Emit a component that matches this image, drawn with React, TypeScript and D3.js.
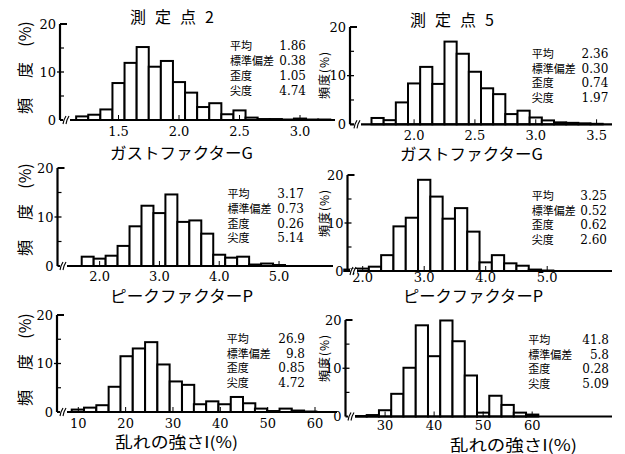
import React from "react";
import * as d3 from "d3";

// ---- Histogram data: bin centres and relative frequency (%) ----
// 測定点2 — gust factor G
const gustBins2 = [1.2, 1.3, 1.4, 1.5, 1.6, 1.7, 1.8, 1.9, 2.0, 2.1, 2.2, 2.3, 2.4, 2.5, 2.6, 2.7, 2.8, 2.9, 3.0, 3.1, 3.2];
const gustFreq2 = [0.75, 1.1, 2.2, 7.7, 11.9, 15.2, 11.1, 12.3, 7.9, 5.7, 2.7, 3.5, 1.2, 2.0, 0.5, 0.2, 0.2, 0.1, 0.3, 0.1, 0.1];
// 測定点5 — gust factor G
const gustBins5 = [1.7, 1.8, 1.9, 2.0, 2.1, 2.2, 2.3, 2.4, 2.5, 2.6, 2.7, 2.8, 2.9, 3.0, 3.1, 3.2, 3.3, 3.4, 3.5];
const gustFreq5 = [1.3, 0.85, 4.5, 8.4, 11.8, 8.3, 17.0, 14.5, 10.8, 7.4, 6.2, 2.1, 2.8, 1.4, 0.8, 0.4, 0.3, 0.2, 0.1];
// 測定点2 — peak factor P
const peakBins2 = [1.8, 2.0, 2.2, 2.4, 2.6, 2.8, 3.0, 3.2, 3.4, 3.6, 3.8, 4.0, 4.2, 4.4, 4.6, 4.8, 5.0];
const peakFreq2 = [1.9, 1.5, 2.1, 4.1, 8.1, 12.3, 10.8, 14.6, 9.0, 9.3, 6.6, 2.3, 1.7, 1.9, 0.3, 0.5, 0.2];
// 測定点5 — peak factor P
const peakBins5 = [1.8, 2.0, 2.2, 2.4, 2.6, 2.8, 3.0, 3.2, 3.4, 3.6, 3.8, 4.0, 4.2, 4.4, 4.6, 4.8, 5.0];
const peakFreq5 = [0.3, 0.5, 0.9, 3.3, 9.3, 11.1, 19.0, 15.5, 10.9, 13.1, 8.2, 1.8, 3.3, 1.6, 1.1, 0.3, 0.1];
// 測定点2 — turbulence intensity I (%)
const turbBins2 = [9.9, 12.5, 15.1, 17.7, 20.2, 22.8, 25.4, 28.0, 30.6, 33.2, 35.7, 38.3, 40.9, 43.5, 46.1, 48.6, 51.2, 53.8, 56.4, 59.0];
const turbFreq2 = [0.5, 0.9, 1.4, 5.2, 11.5, 13.1, 14.4, 9.8, 6.3, 5.6, 1.6, 2.2, 1.6, 3.1, 1.8, 0.7, 0.2, 0.7, 0.3, 0.1];
// 測定点5 — turbulence intensity I (%)
const turbBins5 = [25, 27.5, 30, 32.5, 35, 37.5, 40, 42.5, 45, 47.5, 50, 52.5, 55, 57.5, 60];
const turbFreq5 = [0.1, 0.3, 1.3, 4.7, 10.1, 18.9, 12.5, 19.9, 15.6, 8.5, 0.8, 4.3, 2.4, 0.8, 0.4];

// Summary statistics
const statNames = ["平均", "標準偏差", "歪度", "尖度"];
const statsGust2 = ["1.86", "0.38", "1.05", "4.74"];
const statsGust5 = ["2.36", "0.30", "0.74", "1.97"];
const statsPeak2 = ["3.17", "0.73", "0.26", "5.14"];
const statsPeak5 = ["3.25", "0.52", "0.62", "2.60"];
const statsTurb2 = ["26.9", "9.8", "0.85", "4.72"];
const statsTurb5 = ["41.8", "5.8", "0.28", "5.09"];

// Axis ticks
const yTicks = [0, 10, 20];
const yMinorTicks = [5, 15];
const gustTicks2 = [1.5, 2.0, 2.5, 3.0];
const gustTicks5 = [2.0, 2.5, 3.0, 3.5];
const peakTicks = [2.0, 3.0, 4.0, 5.0];
const turbTicks2 = [10, 20, 30, 40, 50, 60];
const turbTicks5 = [30, 40, 50, 60];

const titles = ["測定点2", "測定点5"];
const xTitles = ["ガストファクターG", "ピークファクターP", "乱れの強さI(%)"];
const yTitleParts = ["頻", "度", "(%)"];
const yTitleSmall = "頻度(%)";

const SERIF = "'DejaVu Serif', 'Liberation Serif', serif";
const CJK = "'Noto Sans CJK JP', sans-serif";

type PanelSpec = {
  bins: number[];
  freq: number[];
  width: number;
  stats: string[];
  ticks: number[];
  fmt: (v: number) => string;
  xDom: [number, number];
  xRange: [number, number];
  y0: number;
  y20: number;
  tickDy: number;
  axisX: number;
  axisEnd: number;
  breakX: number;
  title?: { text: string; x: number; y: number };
  xTitle: { text: string; x: number; y: number; len: number };
  yTitle: { x: number; y: number; big: boolean };
  statPos: { lx: number; vx: number; y: number; dy: number };
};

const f1 = d3.format(".1f");
const f0 = d3.format("d");

const panels: PanelSpec[] = [
  {
    bins: gustBins2, freq: gustFreq2, width: 0.1, stats: statsGust2, ticks: gustTicks2, fmt: f1,
    xDom: [1.5, 2.5], xRange: [118.5, 239.5], y0: 120, y20: 24, tickDy: 16, axisX: 60, axisEnd: 335, breakX: 66,
    title: { text: titles[0], x: 130, y: 23 },
    xTitle: { text: xTitles[0], x: 181.5, y: 159, len: 143 },
    yTitle: { x: 25, y: 68, big: true },
    statPos: { lx: 230, vx: 306, y: 50, dy: 15 },
  },
  {
    bins: gustBins5, freq: gustFreq5, width: 0.1, stats: statsGust5, ticks: gustTicks5, fmt: f1,
    xDom: [1.65, 3.15], xRange: [371.5, 554], y0: 124.3, y20: 27, tickDy: 16, axisX: 350, axisEnd: 612, breakX: 357,
    title: { text: titles[1], x: 410, y: 26 },
    xTitle: { text: xTitles[0], x: 471.5, y: 160, len: 143 },
    yTitle: { x: 325, y: 75, big: false },
    statPos: { lx: 531.7, vx: 608.3, y: 58, dy: 14.5 },
  },
  {
    bins: peakBins2, freq: peakFreq2, width: 0.2, stats: statsPeak2, ticks: peakTicks, fmt: f1,
    xDom: [1.7, 5.1], xRange: [81.7, 285], y0: 266, y20: 168, tickDy: 15, axisX: 57.5, axisEnd: 333, breakX: 63,
    xTitle: { text: xTitles[1], x: 181.5, y: 302, len: 143 },
    yTitle: { x: 25, y: 210, big: true },
    statPos: { lx: 227.5, vx: 304, y: 198, dy: 14.8 },
  },
  {
    bins: peakBins5, freq: peakFreq5, width: 0.2, stats: statsPeak5, ticks: peakTicks, fmt: f1,
    xDom: [2, 5], xRange: [362.7, 547.2], y0: 271, y20: 175, tickDy: 11, axisX: 347.5, axisEnd: 612, breakX: 353,
    xTitle: { text: xTitles[1], x: 473, y: 302, len: 140 },
    yTitle: { x: 325, y: 213, big: false },
    statPos: { lx: 531.7, vx: 607, y: 200, dy: 14.5 },
  },
  {
    bins: turbBins2, freq: turbFreq2, width: 2.58, stats: statsTurb2, ticks: turbTicks2, fmt: f0,
    xDom: [10, 60], xRange: [78.3, 315], y0: 412, y20: 315, tickDy: 15.5, axisX: 57, axisEnd: 337, breakX: 63,
    xTitle: { text: xTitles[2], x: 176.5, y: 448, len: 123 },
    yTitle: { x: 25, y: 360, big: true },
    statPos: { lx: 226.7, vx: 305, y: 343, dy: 14.7 },
  },
  {
    bins: turbBins5, freq: turbFreq5, width: 2.5, stats: statsTurb5, ticks: turbTicks5, fmt: f0,
    xDom: [26.25, 61.25], xRange: [366.7, 538.3], y0: 416.5, y20: 320, tickDy: 13.5, axisX: 345.5, axisEnd: 612, breakX: 351,
    xTitle: { text: xTitles[2], x: 513.5, y: 451, len: 127 },
    yTitle: { x: 325, y: 358, big: false },
    statPos: { lx: 528.3, vx: 609, y: 344, dy: 14.7 },
  },
];

function Panel({ p }: { p: PanelSpec }) {
  const x = d3.scaleLinear().domain(p.xDom).range(p.xRange);
  const y = d3.scaleLinear().domain([0, 20]).range([p.y0, p.y20]);
  const half = p.width / 2;
  // offsets of the three parts of the large vertical axis title
  const partOffsets = [38, 2, -34];
  return (
    <g>
      {/* bars */}
      {p.bins.map((c, i) => {
        const x0 = x(c - half);
        const x1 = x(c + half);
        const top = y(p.freq[i]);
        return (
          <rect
            key={i}
            x={x0}
            y={top}
            width={x1 - x0}
            height={p.y0 - top}
            fill="#fff"
            stroke="#000"
            strokeWidth={2}
          />
        );
      })}
      {/* x axis */}
      <line x1={p.axisX} x2={p.axisEnd} y1={p.y0} y2={p.y0} stroke="#000" strokeWidth={2.2} />
      {p.ticks.map((t) => (
        <g key={t}>
          <line x1={x(t)} x2={x(t)} y1={p.y0} y2={p.y0 - 5} stroke="#000" strokeWidth={1} />
          <text
            x={x(t)}
            y={p.y0 + p.tickDy}
            textAnchor="middle"
            fontFamily={SERIF}
            fontSize={13}
            fill="#000"
          >
            {p.fmt(t)}
          </text>
        </g>
      ))}
      {/* axis break mark */}
      <g stroke="#000" strokeWidth={1.1} fill="none">
        <rect x={p.breakX - 3} y={p.y0 - 2} width={7} height={4} fill="#fff" stroke="none" />
        <path d={`M${p.breakX - 3},${p.y0 + 4} q1,-4 1,-4 t2,-4`} />
        <path d={`M${p.breakX},${p.y0 + 4} q1,-4 1,-4 t2,-4`} />
      </g>
      {/* y axis */}
      <line x1={p.axisX} x2={p.axisX} y1={p.y0} y2={y(20)} stroke="#000" strokeWidth={2.2} />
      <line x1={p.axisX} x2={p.axisX + 7} y1={y(20)} y2={y(20)} stroke="#000" strokeWidth={2} />
      <line x1={p.axisX - 3} x2={p.axisX + 4} y1={y(10)} y2={y(10)} stroke="#000" strokeWidth={1.3} />
      {yMinorTicks.map((t) => (
        <line key={t} x1={p.axisX} x2={p.axisX + 4} y1={y(t)} y2={y(t)} stroke="#000" strokeWidth={1.2} />
      ))}
      {yTicks.map((t) => (
        <text
          key={t}
          x={p.axisX - 4}
          y={y(t) + 4.5}
          textAnchor="end"
          fontFamily={SERIF}
          fontSize={13}
          fill="#000"
        >
          {t}
        </text>
      ))}
      {/* titles */}
      {p.title && (
        <text x={p.title.x} y={p.title.y} fontFamily={CJK} fontSize={16} letterSpacing={9} fill="#000">
          {p.title.text}
        </text>
      )}
      <text
        x={p.xTitle.x}
        y={p.xTitle.y}
        textAnchor="middle"
        fontFamily={CJK}
        fontSize={15.5}
        textLength={p.xTitle.len}
        lengthAdjust="spacingAndGlyphs"
        fill="#000"
      >
        {p.xTitle.text}
      </text>
      {p.yTitle.big ? (
        yTitleParts.map((s, i) => (
          <text
            key={s}
            transform={`translate(${p.yTitle.x},${p.yTitle.y + partOffsets[i]}) rotate(-90)`}
            textAnchor="middle"
            dy="0.35em"
            fontFamily={CJK}
            fontSize={16}
            fill="#000"
          >
            {s}
          </text>
        ))
      ) : (
        <text
          transform={`translate(${p.yTitle.x},${p.yTitle.y}) rotate(-90)`}
          textAnchor="middle"
          dy="0.35em"
          fontFamily={CJK}
          fontSize={12}
          letterSpacing={1}
          fill="#000"
        >
          {yTitleSmall}
        </text>
      )}
      {/* statistics */}
      {statNames.map((s, i) => (
        <g key={s}>
          <text
            x={p.statPos.lx}
            y={p.statPos.y + i * p.statPos.dy}
            fontFamily={CJK}
            fontSize={11}
            fill="#000"
          >
            {s}
          </text>
          <text
            x={p.statPos.vx}
            y={p.statPos.y + i * p.statPos.dy}
            textAnchor="end"
            fontFamily={SERIF}
            fontSize={12}
            fill="#000"
          >
            {p.stats[i]}
          </text>
        </g>
      ))}
    </g>
  );
}

export default function App() {
  return (
    <svg
      width={625}
      height={454}
      viewBox="0 0 625 454"
      style={{ position: "absolute", left: 0, top: 0, background: "#fff" }}
    >
      <rect x={0} y={0} width={625} height={454} fill="#fff" />
      {panels.map((p, i) => (
        <Panel key={i} p={p} />
      ))}
    </svg>
  );
}
